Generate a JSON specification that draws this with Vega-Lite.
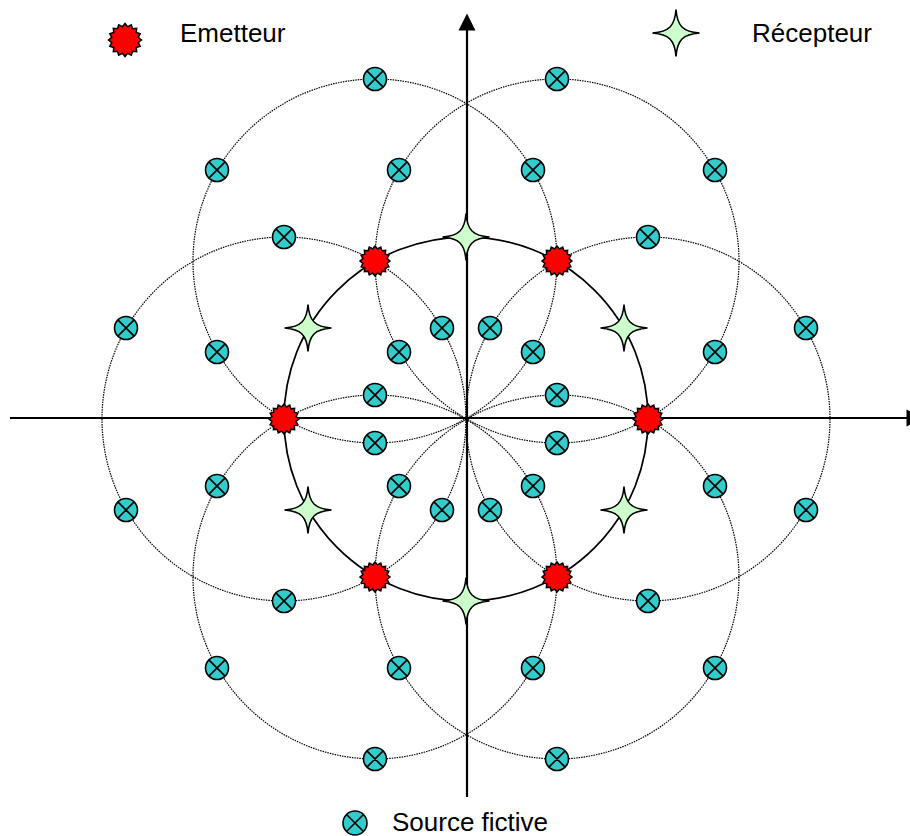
{
  "$schema": "https://vega.github.io/schema/vega-lite/v6.json",
  "width": 910,
  "height": 836,
  "autosize": {"type": "none"},
  "padding": 0,
  "background": "white",
  "config": {"view": {"stroke": null}},
  "datasets": {
    "emitters": [
      {"x": 182, "y": 0}, {"x": 91, "y": 158}, {"x": -91, "y": 158},
      {"x": -182, "y": 0}, {"x": -91, "y": -158}, {"x": 91, "y": -158}
    ],
    "center": [{"x": 0, "y": 0}],
    "receptors": [
      {"x": 158, "y": 91}, {"x": 0, "y": 182}, {"x": -158, "y": 91},
      {"x": -158, "y": -91}, {"x": 0, "y": -182}, {"x": 158, "y": -91}
    ],
    "sources": [
      {"x": 340, "y": 91}, {"x": 249, "y": 249}, {"x": 91, "y": 340}, {"x": -91, "y": 340},
      {"x": -249, "y": 249}, {"x": -340, "y": 91}, {"x": -340, "y": -91}, {"x": -249, "y": -249},
      {"x": -91, "y": -340}, {"x": 91, "y": -340}, {"x": 249, "y": -249}, {"x": 340, "y": -91},
      {"x": 249, "y": 67}, {"x": 182, "y": 182}, {"x": 67, "y": 249}, {"x": -67, "y": 249},
      {"x": -182, "y": 182}, {"x": -249, "y": 67}, {"x": -249, "y": -67}, {"x": -182, "y": -182},
      {"x": -67, "y": -249}, {"x": 67, "y": -249}, {"x": 182, "y": -182}, {"x": 249, "y": -67},
      {"x": 91, "y": 24}, {"x": 67, "y": 67}, {"x": 24, "y": 91}, {"x": -24, "y": 91},
      {"x": -67, "y": 67}, {"x": -91, "y": 24}, {"x": -91, "y": -24}, {"x": -67, "y": -67},
      {"x": -24, "y": -91}, {"x": 24, "y": -91}, {"x": 67, "y": -67}, {"x": 91, "y": -24}
    ],
    "axes": [
      {"x": -456, "x2": 442, "y": 1, "y2": 1},
      {"x": 1, "x2": 1, "y": -378, "y2": 391}
    ],
    "arrowUp": [{"x": 1, "y": 397}],
    "arrowRight": [{"x": 449, "y": 1}],
    "legEmit": [{"x": -341, "y": 379}],
    "legRec": [{"x": 210, "y": 386}],
    "legSrc": [{"x": -111, "y": -404}],
    "labels": [
      {"x": -286, "y": 377, "label": "Emetteur"},
      {"x": 286, "y": 377, "label": "Récepteur"},
      {"x": -74, "y": -412, "label": "Source fictive"}
    ]
  },
  "encoding": {
    "x": {"field": "x", "type": "quantitative", "scale": {"domain": [-466, 444], "nice": false, "zero": false}, "axis": null},
    "y": {"field": "y", "type": "quantitative", "scale": {"domain": [-417, 419], "nice": false, "zero": false}, "axis": null}
  },
  "layer": [
    {
      "data": {"name": "emitters"},
      "mark": {"type": "point", "shape": "circle", "filled": false, "stroke": "black", "strokeWidth": 1.2, "strokeDash": [1.5, 1], "size": 132496, "opacity": 1}
    },
    {
      "data": {"name": "center"},
      "mark": {"type": "point", "shape": "circle", "filled": false, "stroke": "black", "strokeWidth": 1.75, "size": 132496, "opacity": 1}
    },
    {
      "data": {"name": "axes"},
      "mark": {"type": "rule", "stroke": "black", "strokeWidth": 2.2},
      "encoding": {"x2": {"field": "x2"}, "y2": {"field": "y2"}}
    },
    {
      "data": {"name": "arrowUp"},
      "mark": {"type": "point", "shape": "M0,-1L1,1L-1,1Z", "filled": true, "fill": "black", "stroke": null, "size": 289, "opacity": 1}
    },
    {
      "data": {"name": "arrowRight"},
      "mark": {"type": "point", "shape": "M1,0L-1,1L-1,-1Z", "filled": true, "fill": "black", "stroke": null, "size": 289, "opacity": 1}
    },
    {
      "data": {"name": "sources"},
      "mark": {"type": "point", "shape": "M-1,0A1,1,0,1,0,1,0A1,1,0,1,0,-1,0ZM-0.707,-0.707L0.707,0.707M-0.707,0.707L0.707,-0.707", "filled": true, "fill": "#33cccc", "stroke": "black", "strokeWidth": 1.6, "size": 529, "opacity": 1}
    },
    {
      "data": {"name": "emitters"},
      "mark": {"type": "point", "shape": "M1,0L0.804,0.16L0.924,0.383L0.682,0.456L0.707,0.707L0.456,0.682L0.383,0.924L0.16,0.804L0,1L-0.16,0.804L-0.383,0.924L-0.456,0.682L-0.707,0.707L-0.682,0.456L-0.924,0.383L-0.804,0.16L-1,0L-0.804,-0.16L-0.924,-0.383L-0.682,-0.456L-0.707,-0.707L-0.456,-0.682L-0.383,-0.924L-0.16,-0.804L0,-1L0.16,-0.804L0.383,-0.924L0.456,-0.682L0.707,-0.707L0.682,-0.456L0.924,-0.383L0.804,-0.16Z", "filled": true, "fill": "#ff0000", "stroke": "black", "strokeWidth": 1.5, "size": 900, "opacity": 1}
    },
    {
      "data": {"name": "receptors"},
      "mark": {"type": "point", "shape": "M0,-1C0.05,-0.3,0.3,-0.05,1,0C0.3,0.05,0.05,0.3,0,1C-0.05,0.3,-0.3,0.05,-1,0C-0.3,-0.05,-0.05,-0.3,0,-1Z", "filled": true, "fill": "#ccffcc", "stroke": "black", "strokeWidth": 1.6, "size": 2209, "opacity": 1}
    },
    {
      "data": {"name": "legEmit"},
      "mark": {"type": "point", "shape": "M1,0L0.804,0.16L0.924,0.383L0.682,0.456L0.707,0.707L0.456,0.682L0.383,0.924L0.16,0.804L0,1L-0.16,0.804L-0.383,0.924L-0.456,0.682L-0.707,0.707L-0.682,0.456L-0.924,0.383L-0.804,0.16L-1,0L-0.804,-0.16L-0.924,-0.383L-0.682,-0.456L-0.707,-0.707L-0.456,-0.682L-0.383,-0.924L-0.16,-0.804L0,-1L0.16,-0.804L0.383,-0.924L0.456,-0.682L0.707,-0.707L0.682,-0.456L0.924,-0.383L0.804,-0.16Z", "filled": true, "fill": "#ff0000", "stroke": "black", "strokeWidth": 1.5, "size": 1089, "opacity": 1}
    },
    {
      "data": {"name": "legRec"},
      "mark": {"type": "point", "shape": "M0,-1C0.05,-0.3,0.3,-0.05,1,0C0.3,0.05,0.05,0.3,0,1C-0.05,0.3,-0.3,0.05,-1,0C-0.3,-0.05,-0.05,-0.3,0,-1Z", "filled": true, "fill": "#ccffcc", "stroke": "black", "strokeWidth": 1.6, "size": 2209, "opacity": 1}
    },
    {
      "data": {"name": "legSrc"},
      "mark": {"type": "point", "shape": "M-1,0A1,1,0,1,0,1,0A1,1,0,1,0,-1,0ZM-0.707,-0.707L0.707,0.707M-0.707,0.707L0.707,-0.707", "filled": true, "fill": "#33cccc", "stroke": "black", "strokeWidth": 1.6, "size": 576, "opacity": 1}
    },
    {
      "data": {"name": "labels"},
      "mark": {"type": "text", "align": "left", "baseline": "alphabetic", "font": "Liberation Sans", "fontSize": 26, "fill": "black"},
      "encoding": {"text": {"field": "label"}}
    }
  ]
}
